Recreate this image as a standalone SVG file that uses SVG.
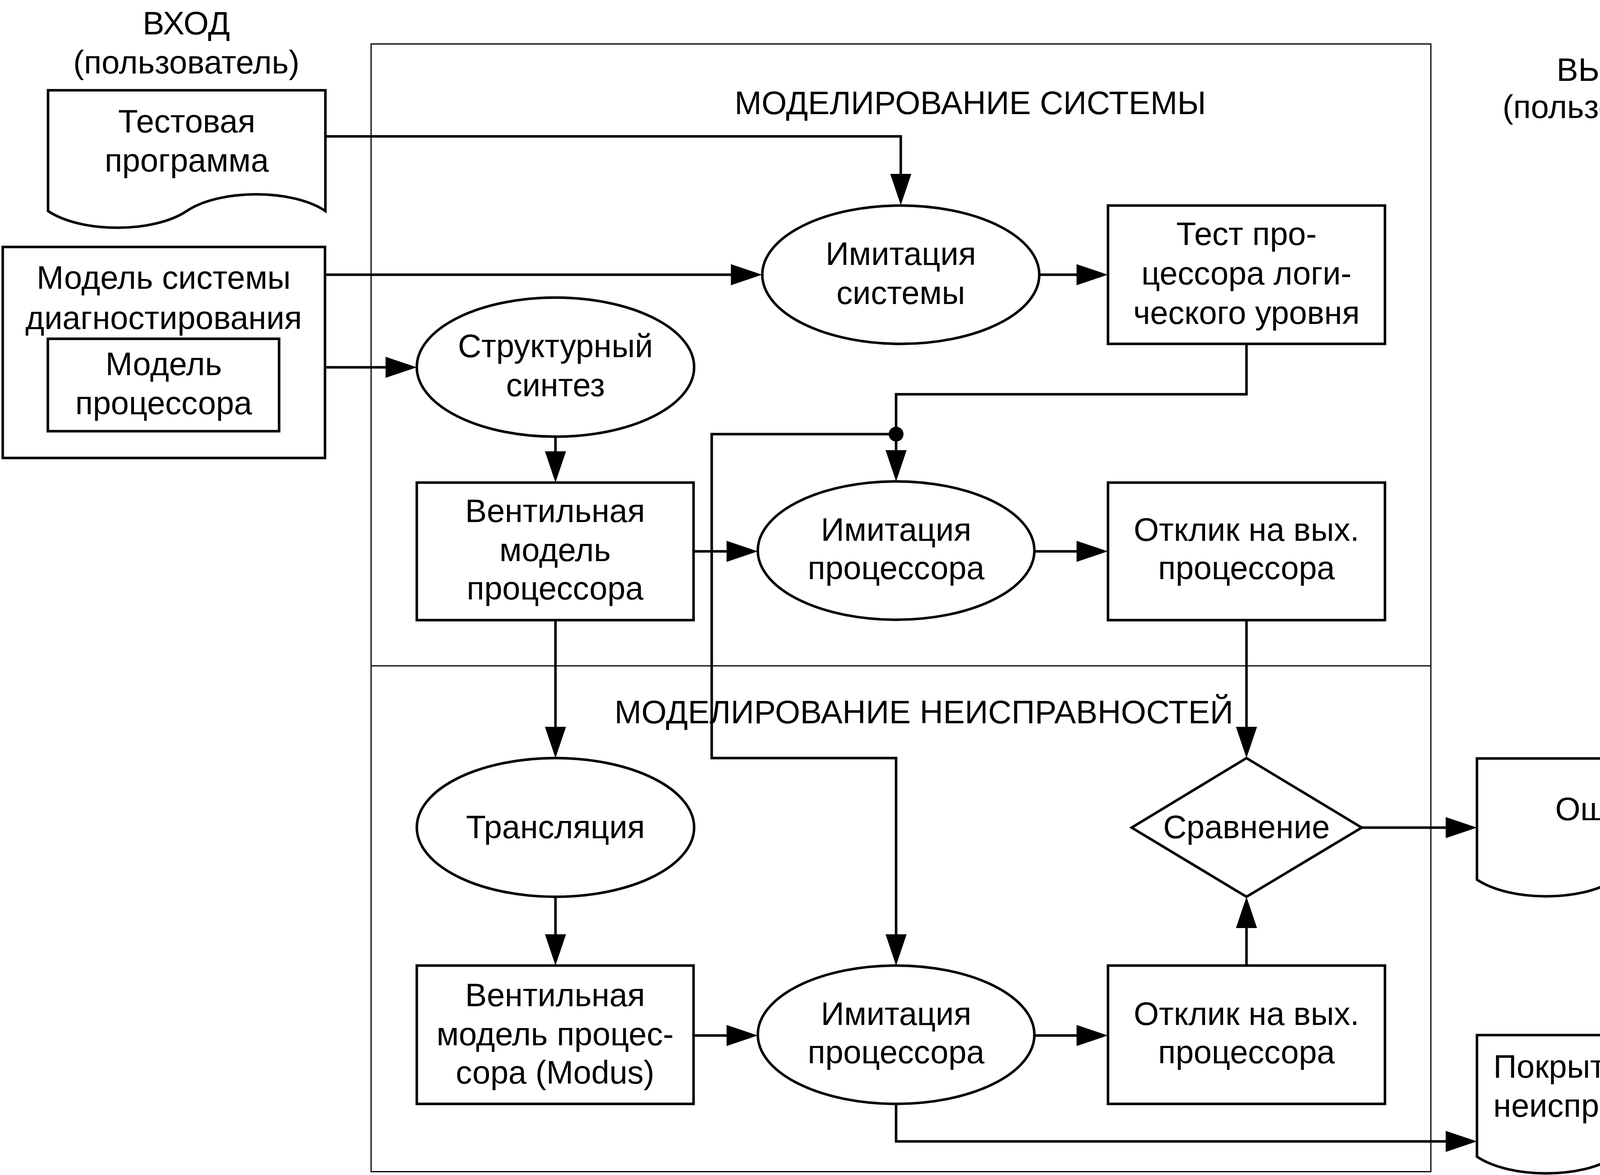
<svg xmlns="http://www.w3.org/2000/svg" width="4495" height="3007" viewBox="0 0 4495 3007">
<defs>
<style>
text{font-family:"Liberation Sans",Arial,sans-serif;font-size:83px;fill:#000;text-anchor:middle}
.s{fill:#fff;stroke:#000;stroke-width:6.5;stroke-linejoin:miter}
.c{fill:none;stroke:#000;stroke-width:6.5;marker-end:url(#arr)}
.f{fill:none;stroke:#000;stroke-width:3}
</style>
<marker id="arr" markerUnits="userSpaceOnUse" markerWidth="80" markerHeight="54" refX="0" refY="27" orient="auto" viewBox="0 0 80 54"><path d="M0,0 L80,27 L0,54 z" fill="#000"/></marker>
</defs>
<rect width="4495" height="3007" fill="#fff"/>
<g id="frame">
<rect class="f" x="950" y="112.5" width="2713" height="2886"/>
<line class="f" x1="950" y1="1704" x2="3663" y2="1704"/>
<text x="2484" y="292">МОДЕЛИРОВАНИЕ СИСТЕМЫ</text>
<text x="2365" y="1851">МОДЕЛИРОВАНИЕ НЕИСПРАВНОСТЕЙ</text>
</g>
<g id="labels">
<text x="477" y="88">ВХОД</text>
<text x="477" y="188">(пользователь)</text>
<text x="4135" y="207">ВЫХОД</text>
<text x="4136" y="302">(пользователь)</text>
</g>
<g id="connectors">
<path class="c" d="M832,349 H2306 V445"/>
<path class="c" d="M832,703 H1871"/>
<path class="c" d="M715,940 H987"/>
<path class="c" d="M2660,703 H2756"/>
<path class="c" d="M3191,880 V1009 H2294 V1152"/>
<path class="c" d="M2294,1111 H1822 V1940 H2294 V2391"/>
<circle cx="2294" cy="1111" r="19" fill="#000"/>
<path class="c" d="M1422,1117 V1155"/>
<path class="c" d="M1775,1411 H1860"/>
<path class="c" d="M2648,1411 H2756"/>
<path class="c" d="M3191,1587 V1860"/>
<path class="c" d="M1422,1587 V1860"/>
<path class="c" d="M1422,2295 V2391"/>
<path class="c" d="M1775,2650 H1860"/>
<path class="c" d="M2648,2650 H2756"/>
<path class="c" d="M3191,2471 V2375"/>
<path class="c" d="M3486,2118 H3701"/>
<path class="c" d="M2294,2825 V2921 H3701"/>
</g>
<g id="doc-test-program">
<path class="s" d="M123,231 H833 V540 C748,483 564,483 478,540 C393,597 208,597 123,540 Z"/>
<text x="478" y="339">Тестовая</text>
<text x="478" y="439">программа</text>
</g>
<g id="box-system-model">
<rect class="s" x="7" y="632" width="825" height="540"/>
<text x="419" y="739">Модель системы</text>
<text x="419" y="842">диагностирования</text>
</g>
<g id="box-processor-model">
<rect class="s" x="122.5" y="867" width="592" height="236.5"/>
<text x="419" y="960">Модель</text>
<text x="419" y="1060">процессора</text>
</g>
<g id="ell-struct-synth">
<ellipse class="s" cx="1422" cy="939.5" rx="355" ry="178"/>
<text x="1422" y="914">Структурный</text>
<text x="1422" y="1014">синтез</text>
</g>
<g id="ell-sys-sim">
<ellipse class="s" cx="2306" cy="703" rx="354.5" ry="177"/>
<text x="2306" y="678">Имитация</text>
<text x="2306" y="778">системы</text>
</g>
<g id="box-logic-test">
<rect class="s" x="2836.5" y="526" width="709" height="354"/>
<text x="3191" y="627">Тест про-</text>
<text x="3191" y="728">цессора логи-</text>
<text x="3191" y="829">ческого уровня</text>
</g>
<g id="box-gate-model">
<rect class="s" x="1067" y="1235" width="708.5" height="352"/>
<text x="1421" y="1336">Вентильная</text>
<text x="1421" y="1436">модель</text>
<text x="1421" y="1534">процессора</text>
</g>
<g id="ell-proc-sim-1">
<ellipse class="s" cx="2294" cy="1409" rx="354" ry="177"/>
<text x="2294" y="1384">Имитация</text>
<text x="2294" y="1482">процессора</text>
</g>
<g id="box-response-1">
<rect class="s" x="2836.5" y="1235" width="709" height="352"/>
<text x="3191" y="1384">Отклик на вых.</text>
<text x="3191" y="1482">процессора</text>
</g>
<g id="ell-translation">
<ellipse class="s" cx="1422" cy="2117.5" rx="355" ry="177.5"/>
<text x="1422" y="2145">Трансляция</text>
</g>
<g id="dia-compare">
<polygon class="s" points="3191,1940 3486,2118 3191,2295 2897,2118"/>
<text x="3191" y="2145">Сравнение</text>
</g>
<g id="doc-errors">
<path class="s" d="M3781,1941 H4489 V2251 C4404,2194 4220,2194 4135,2251 C4050,2308 3866,2308 3781,2251 Z"/>
<text x="4135" y="2099">Ошибки</text>
</g>
<g id="box-gate-modus">
<rect class="s" x="1067" y="2471" width="708.5" height="354"/>
<text x="1421" y="2575">Вентильная</text>
<text x="1421" y="2675">модель процес-</text>
<text x="1421" y="2773">сора (Modus)</text>
</g>
<g id="ell-proc-sim-2">
<ellipse class="s" cx="2294" cy="2648" rx="354" ry="177"/>
<text x="2294" y="2623">Имитация</text>
<text x="2294" y="2721">процессора</text>
</g>
<g id="box-response-2">
<rect class="s" x="2836.5" y="2471" width="709" height="354"/>
<text x="3191" y="2623">Отклик на вых.</text>
<text x="3191" y="2721">процессора</text>
</g>
<g id="doc-coverage">
<path class="s" d="M3781,2649 H4489 V2960 C4404,2903 4220,2903 4135,2960 C4050,3017 3866,3017 3781,2960 Z"/>
<text x="4135" y="2758">Покрытие конст.</text>
<text x="4135" y="2858">неисправностей</text>
</g>
</svg>
